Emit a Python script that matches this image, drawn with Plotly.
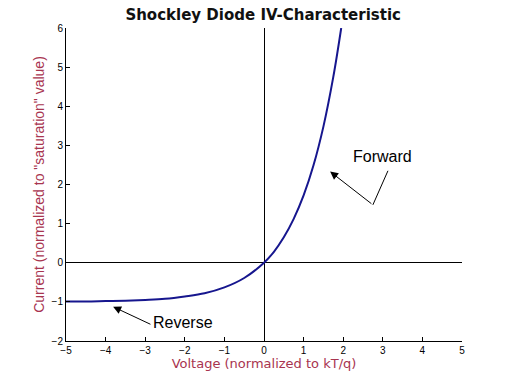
import plotly.graph_objects as go

# Data
voltage = [-5, -4.5, -4, -3.5, -3, -2.5, -2, -1.5, -1, -0.5, 0, 0.25, 0.5, 0.75, 1, 1.25, 1.5, 1.75, 1.95]
current = [-0.99, -0.99, -0.98, -0.97, -0.95, -0.92, -0.86, -0.78, -0.63, -0.39, 0, 0.28, 0.65, 1.12, 1.72, 2.49, 3.48, 4.75, 6.0]
x_ticks = [-5, -4, -3, -2, -1, 0, 1, 2, 3, 4, 5]
y_ticks = [-2, -1, 0, 1, 2, 3, 4, 5, 6]

# Annotation anchors (data units)
fwd_text = (3.0, 2.71)
fwd_bend_start = (3.13, 2.35)
fwd_vertex = (2.75, 1.48)
fwd_tip = (1.67, 2.33)
rev_text = (-2.05, -1.52)
rev_tail = (-2.83, -1.59)
rev_tip = (-3.81, -1.125)

fig = go.Figure()
fig.add_trace(go.Scatter(x=voltage, y=current, mode="lines", line=dict(color="#16168e", width=2, shape="spline"),
                         hoverinfo="skip"))

axis_font = dict(family="Liberation Sans, Arial", size=10, color="black")
fig.update_layout(
    width=512, height=384,
    margin=dict(l=66, r=50, t=28, b=43),
    paper_bgcolor="white", plot_bgcolor="white",
    showlegend=False,
    title=dict(text="Shockley Diode IV-Characteristic", x=0.514, xanchor="center", y=0.962, yanchor="middle",
               font=dict(family="DejaVu Sans", size=15, color="#111111", weight="bold")),
    xaxis=dict(range=[-5, 5], tickvals=x_ticks, ticks="inside", ticklen=4, tickcolor="black",
               showline=True, linecolor="black", linewidth=1, showgrid=False,
               zeroline=True, zerolinecolor="black", zerolinewidth=1, tickfont=axis_font,
               title=dict(text="Voltage (normalized to kT/q)", standoff=2,
                          font=dict(family="DejaVu Sans", size=13, color="#a8344f"))),
    yaxis=dict(range=[-2, 6], tickvals=y_ticks, ticks="inside", ticklen=4, tickcolor="black",
               showline=True, linecolor="black", linewidth=1, showgrid=False,
               zeroline=True, zerolinecolor="black", zerolinewidth=1, tickfont=axis_font,
               title=dict(text="Current (normalized to \"saturation\" value)", standoff=3,
                          font=dict(family="Liberation Sans, Arial", size=14, color="#a8344f"))),
)

fig.add_annotation(x=fwd_text[0], y=fwd_text[1], text="Forward", showarrow=False,
                   font=dict(family="Liberation Sans, Arial", size=16, color="black"))
fig.add_annotation(x=fwd_tip[0], y=fwd_tip[1], ax=fwd_vertex[0], ay=fwd_vertex[1], axref="x", ayref="y",
                   xref="x", yref="y", text="", showarrow=True, arrowhead=2, arrowsize=1.6, arrowwidth=1,
                   arrowcolor="black")
fig.add_shape(type="line", x0=fwd_bend_start[0], y0=fwd_bend_start[1], x1=fwd_vertex[0], y1=fwd_vertex[1],
              line=dict(color="black", width=1))
fig.add_annotation(x=rev_text[0], y=rev_text[1], text="Reverse", showarrow=False,
                   font=dict(family="Liberation Sans, Arial", size=16, color="black"))
fig.add_annotation(x=rev_tip[0], y=rev_tip[1], ax=rev_tail[0], ay=rev_tail[1], axref="x", ayref="y",
                   xref="x", yref="y", text="", showarrow=True, arrowhead=2, arrowsize=1.6, arrowwidth=1,
                   arrowcolor="black")

fig.write_html("out.html")
